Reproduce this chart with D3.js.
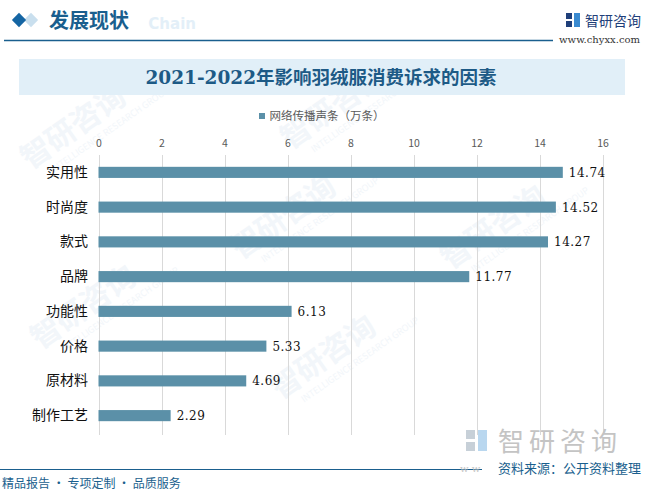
<!DOCTYPE html>
<html>
<head>
<meta charset="utf-8">
<script src="https://cdn.jsdelivr.net/npm/d3@7"></script>
<style>
	body { margin: 0; background: #fff; }
	svg { display: block; }
</style>
</head>
<body>
<div id="chart"></div>
<script>

	// Data

	var categories = ["实用性", "时尚度", "款式", "品牌", "功能性", "价格", "原材料", "制作工艺"];
	var values = [14.74, 14.52, 14.27, 11.77, 6.13, 5.33, 4.69, 2.29];
	var xTicks = [0, 2, 4, 6, 8, 10, 12, 14, 16];
	var seriesName = "网络传播声条（万条）";

	var width = 645, height = 492;
	var barColor = "#5b90a8";
	var blue = "#1a5f8e";
	var serif = "'DejaVu Serif', 'Liberation Serif', 'Noto Sans CJK SC', serif";
	var sans = "'Noto Sans CJK SC', 'Noto Sans', sans-serif";

	var svg = d3.select("#chart").append("svg")
		.attr("width", width)
		.attr("height", height);

	// Watermarks (faint)

	var marks = svg.append("g").attr("fill", "#f2f6fa");
	[[30, 170], [290, 150], [240, 260], [450, 270], [40, 350], [280, 400]].forEach(function (p) {
		var g = marks.append("g").attr("transform", "translate(" + p[0] + "," + p[1] + ") rotate(-35)");
		g.append("text")
			.attr("font-family", sans)
			.attr("font-size", 30)
			.attr("font-weight", "bold")
			.text("智研咨询");
		g.append("text")
			.attr("y", 16)
			.attr("x", 18)
			.attr("font-family", sans)
			.attr("font-size", 9)
			.text("INTELLIGENCE RESEARCH GROUP");
	});

	// Header

	svg.append("text")
		.attr("x", 196).attr("y", 29)
		.attr("text-anchor", "end")
		.attr("font-family", "'DejaVu Sans', sans-serif")
		.attr("font-weight", "bold")
		.attr("font-size", 15)
		.attr("fill", "#e3eff8")
		.text("Chain");

	svg.append("path")
		.attr("d", d3.symbol(d3.symbolDiamond2, 130)())
		.attr("transform", "translate(31,20)")
		.attr("fill", "#c9dfee");
	svg.append("path")
		.attr("d", d3.symbol(d3.symbolDiamond2, 130)())
		.attr("transform", "translate(19,20)")
		.attr("fill", "#1565a3");

	svg.append("text")
		.attr("x", 49).attr("y", 28)
		.attr("font-family", sans)
		.attr("font-weight", "bold")
		.attr("font-size", 20)
		.attr("fill", blue)
		.text("发展现状");

	svg.append("line")
		.attr("x1", 4).attr("x2", 553)
		.attr("y1", 40.5).attr("y2", 40.5)
		.attr("stroke", blue).attr("stroke-width", 1.5);

	// Logo top right
	var logo = svg.append("g").attr("transform", "translate(566,13)");
	logo.append("rect").attr("x", 0).attr("y", 0).attr("width", 6).attr("height", 6).attr("fill", "#1f3f7a");
	logo.append("rect").attr("x", 0).attr("y", 8).attr("width", 6).attr("height", 6).attr("fill", "#1f3f7a");
	logo.append("rect").attr("x", 8).attr("y", 0).attr("width", 6).attr("height", 14).attr("fill", "#3a8ad0");
	svg.append("text")
		.attr("x", 585).attr("y", 26)
		.attr("font-family", sans)
		.attr("font-size", 14)
		.attr("fill", "#1f3f7a")
		.text("智研咨询");
	svg.append("text")
		.attr("x", 640).attr("y", 43)
		.attr("text-anchor", "end")
		.attr("font-family", serif)
		.attr("font-size", 10)
		.attr("fill", "#333")
		.text("www.chyxx.com");

	// Title band

	svg.append("rect")
		.attr("x", 19).attr("y", 59)
		.attr("width", 606).attr("height", 36)
		.attr("fill", "#e1eff8");

	svg.append("text")
		.attr("x", 321).attr("y", 84)
		.attr("text-anchor", "middle")
		.attr("font-family", serif)
		.attr("font-weight", "bold")
		.attr("font-size", 18.5)
		.attr("fill", "#1d5a86")
		.text("2021-2022年影响羽绒服消费诉求的因素");

	// Legend

	var legend = svg.append("g").attr("transform", "translate(322,116)");
	legend.append("text")
		.attr("x", 5).attr("y", 4)
		.attr("text-anchor", "middle")
		.attr("font-family", sans)
		.attr("font-size", 11.5)
		.attr("fill", "#595959")
		.text(seriesName);
	legend.append("rect")
		.attr("x", -63).attr("y", -3)
		.attr("width", 6).attr("height", 6)
		.attr("fill", barColor);

	// Scales

	var x = d3.scaleLinear()
		.domain([0, 16])
		.range([98.5, 602.5]);

	var y = d3.scaleBand()
		.domain(categories)
		.range([155, 433])
		.paddingInner(0.68)
		.paddingOuter(0.34);

	// Grid

	svg.append("g")
		.selectAll("line")
		.data(xTicks)
		.enter().append("line")
		.attr("x1", function (d) { return Math.round(x(d)) + 0.5; })
		.attr("x2", function (d) { return Math.round(x(d)) + 0.5; })
		.attr("y1", 155)
		.attr("y2", 435)
		.attr("stroke", "#d9d9d9");

	// Axes

	var xAxis = svg.append("g")
		.attr("transform", "translate(0,147)")
		.call(d3.axisTop(x).tickValues(xTicks).tickSize(0).tickPadding(0));
	xAxis.select(".domain").remove();
	xAxis.selectAll("text")
		.attr("font-family", sans)
		.attr("font-size", 10.5)
		.attr("fill", "#595959");

	var yAxis = svg.append("g")
		.attr("transform", "translate(88,0)")
		.call(d3.axisLeft(y).tickSize(0).tickPadding(0));
	yAxis.select(".domain").remove();
	yAxis.selectAll("text")
		.attr("font-family", sans)
		.attr("font-size", 14)
		.attr("fill", "#111");

	// Bars

	svg.append("g")
		.selectAll("rect")
		.data(values)
		.enter().append("rect")
		.attr("x", x(0))
		.attr("y", function (d, i) { return y(categories[i]); })
		.attr("width", function (d) { return x(d) - x(0); })
		.attr("height", y.bandwidth())
		.attr("fill", barColor);

	svg.append("g")
		.selectAll("text")
		.data(values)
		.enter().append("text")
		.attr("x", function (d) { return x(d) + 6; })
		.attr("y", function (d, i) { return y(categories[i]) + y.bandwidth() / 2 + 4.5; })
		.attr("font-family", serif)
		.attr("font-size", 12)
		.attr("letter-spacing", 0.5)
		.attr("fill", "#111")
		.text(function (d) { return d.toFixed(2); });

	// Footer

	var flogo = svg.append("g").attr("transform", "translate(466,430)").attr("fill", "#c7d0d8");
	flogo.append("rect").attr("x", 0).attr("y", 0).attr("width", 9).attr("height", 9);
	flogo.append("rect").attr("x", 0).attr("y", 12).attr("width", 9).attr("height", 9);
	flogo.append("rect").attr("x", 12).attr("y", 0).attr("width", 9).attr("height", 21).attr("fill", "#b9d7ef");
	svg.append("text")
		.attr("x", 498).attr("y", 451)
		.attr("font-family", sans)
		.attr("font-size", 26)
		.attr("fill", "#c4c4c4")
		.attr("letter-spacing", 5)
		.text("智研咨询");

	svg.append("line")
		.attr("x1", 0).attr("x2", 482)
		.attr("y1", 469.5).attr("y2", 469.5)
		.attr("stroke", blue).attr("stroke-width", 1.2);
	svg.append("text")
		.attr("x", 460).attr("y", 472)
		.attr("font-family", serif)
		.attr("font-size", 10)
		.attr("fill", "#c4c4c4")
		.text("w w");

	svg.append("text")
		.attr("x", 641).attr("y", 473)
		.attr("text-anchor", "end")
		.attr("font-family", sans)
		.attr("font-size", 13)
		.attr("fill", blue)
		.text("资料来源：公开资料整理");

	svg.append("text")
		.attr("x", 2).attr("y", 488)
		.attr("font-family", sans)
		.attr("font-size", 12)
		.attr("fill", blue)
		.text("精品报告 · 专项定制 · 品质服务");

</script>
</body>
</html>
